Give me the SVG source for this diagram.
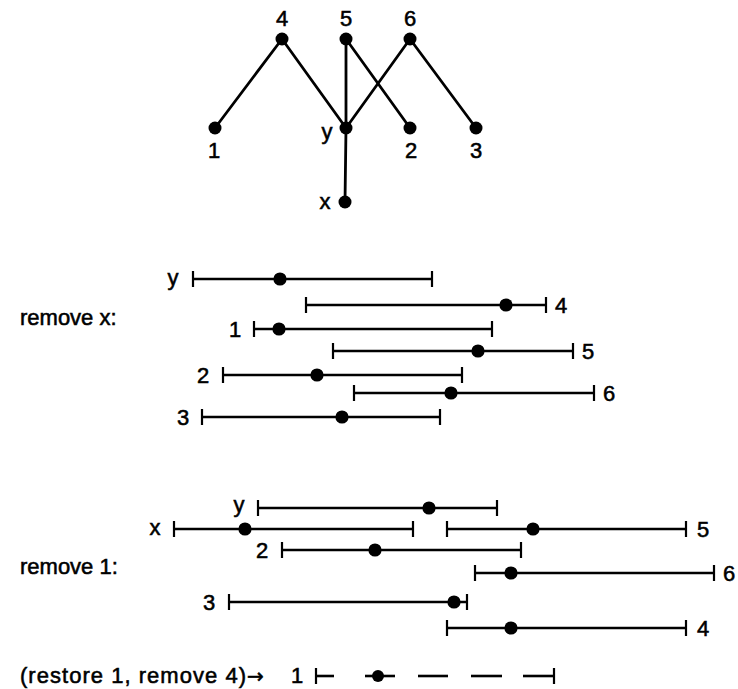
<svg xmlns="http://www.w3.org/2000/svg" width="738" height="689" viewBox="0 0 738 689">
  <style>
    text { font-family: "Liberation Sans", Arial, Helvetica, sans-serif; fill: #000; stroke: #000; stroke-width: 0.55; }
    .lbl { font-size: 22px; }
    .mid { text-anchor: middle; }
    .cap { font-size: 22px; }
    .edge { stroke: #000; stroke-width: 2.8; fill: none; stroke-linecap: round; }
    .node { fill: #000; }
    .bar { stroke: #000; stroke-width: 2.6; fill: none; }
    .tick { stroke: #000; stroke-width: 2.2; }
    .pt { fill: #000; }
  </style>
  <rect width="738" height="689" fill="#fff"/>

  <!-- poset: connectors -->
  <g id="connectors">
    <line class="edge" x1="282" y1="39" x2="215" y2="128"/>
    <line class="edge" x1="282" y1="39" x2="346" y2="128"/>
    <line class="edge" x1="346" y1="39" x2="346" y2="128"/>
    <line class="edge" x1="346" y1="39" x2="410" y2="128"/>
    <line class="edge" x1="410" y1="39" x2="346" y2="128"/>
    <line class="edge" x1="410" y1="39" x2="476" y2="128"/>
    <line class="edge" x1="346" y1="128" x2="345" y2="202"/>
  </g>

  <!-- poset: nodes -->
  <g id="node-4"><circle class="node" cx="282" cy="39" r="6.5"/><text class="lbl mid" x="282" y="26">4</text></g>
  <g id="node-5"><circle class="node" cx="346" cy="39" r="6.5"/><text class="lbl mid" x="346" y="26">5</text></g>
  <g id="node-6"><circle class="node" cx="410" cy="39" r="6.5"/><text class="lbl mid" x="410" y="26">6</text></g>
  <g id="node-1"><circle class="node" cx="215" cy="128" r="6.5"/><text class="lbl mid" x="214" y="158">1</text></g>
  <g id="node-y"><circle class="node" cx="346" cy="128" r="6.5"/><text class="lbl mid" x="327" y="139">y</text></g>
  <g id="node-2"><circle class="node" cx="410" cy="128" r="6.5"/><text class="lbl mid" x="411" y="158">2</text></g>
  <g id="node-3"><circle class="node" cx="476" cy="128" r="6.5"/><text class="lbl mid" x="476" y="158">3</text></g>
  <g id="node-x"><circle class="node" cx="345" cy="202" r="6.5"/><text class="lbl mid" x="325" y="209">x</text></g>

  <!-- interval representation after removing x -->
  <text class="cap" x="20" y="325">remove x:</text>
  <g id="rx-y">
    <line class="bar" x1="193" y1="279" x2="432" y2="279"/>
    <line class="tick" x1="193" y1="271" x2="193" y2="287"/><line class="tick" x1="432" y1="271" x2="432" y2="287"/>
    <circle class="pt" cx="280" cy="279" r="6.6"/>
    <text class="lbl mid" x="173" y="285">y</text>
  </g>
  <g id="rx-4">
    <line class="bar" x1="306" y1="305" x2="546" y2="305"/>
    <line class="tick" x1="306" y1="297" x2="306" y2="313"/><line class="tick" x1="546" y1="297" x2="546" y2="313"/>
    <circle class="pt" cx="506" cy="305" r="6.6"/>
    <text class="lbl mid" x="561" y="313">4</text>
  </g>
  <g id="rx-1">
    <line class="bar" x1="254" y1="329" x2="492" y2="329"/>
    <line class="tick" x1="254" y1="321" x2="254" y2="337"/><line class="tick" x1="492" y1="321" x2="492" y2="337"/>
    <circle class="pt" cx="279" cy="329" r="6.6"/>
    <text class="lbl mid" x="235" y="337">1</text>
  </g>
  <g id="rx-5">
    <line class="bar" x1="333" y1="351" x2="573" y2="351"/>
    <line class="tick" x1="333" y1="343" x2="333" y2="359"/><line class="tick" x1="573" y1="343" x2="573" y2="359"/>
    <circle class="pt" cx="478" cy="351" r="6.6"/>
    <text class="lbl mid" x="588" y="359">5</text>
  </g>
  <g id="rx-2">
    <line class="bar" x1="223" y1="375" x2="462" y2="375"/>
    <line class="tick" x1="223" y1="367" x2="223" y2="383"/><line class="tick" x1="462" y1="367" x2="462" y2="383"/>
    <circle class="pt" cx="317" cy="375" r="6.6"/>
    <text class="lbl mid" x="203" y="383">2</text>
  </g>
  <g id="rx-6">
    <line class="bar" x1="354" y1="393" x2="594" y2="393"/>
    <line class="tick" x1="354" y1="385" x2="354" y2="401"/><line class="tick" x1="594" y1="385" x2="594" y2="401"/>
    <circle class="pt" cx="451" cy="393" r="6.6"/>
    <text class="lbl mid" x="609" y="401">6</text>
  </g>
  <g id="rx-3">
    <line class="bar" x1="202" y1="417" x2="440" y2="417"/>
    <line class="tick" x1="202" y1="409" x2="202" y2="425"/><line class="tick" x1="440" y1="409" x2="440" y2="425"/>
    <circle class="pt" cx="342" cy="417" r="6.6"/>
    <text class="lbl mid" x="183" y="425">3</text>
  </g>

  <!-- interval representation after removing 1 -->
  <text class="cap" x="20" y="574">remove 1:</text>
  <g id="r1-y">
    <line class="bar" x1="258" y1="508" x2="497" y2="508"/>
    <line class="tick" x1="258" y1="500" x2="258" y2="516"/><line class="tick" x1="497" y1="500" x2="497" y2="516"/>
    <circle class="pt" cx="429" cy="508" r="6.6"/>
    <text class="lbl mid" x="239" y="512">y</text>
  </g>
  <g id="r1-x">
    <line class="bar" x1="174" y1="529" x2="413" y2="529"/>
    <line class="tick" x1="174" y1="521" x2="174" y2="537"/><line class="tick" x1="413" y1="521" x2="413" y2="537"/>
    <circle class="pt" cx="245" cy="529" r="6.6"/>
    <text class="lbl mid" x="155" y="535">x</text>
  </g>
  <g id="r1-5">
    <line class="bar" x1="447" y1="529" x2="686" y2="529"/>
    <line class="tick" x1="447" y1="521" x2="447" y2="537"/><line class="tick" x1="686" y1="521" x2="686" y2="537"/>
    <circle class="pt" cx="533" cy="529" r="6.6"/>
    <text class="lbl mid" x="703" y="537">5</text>
  </g>
  <g id="r1-2">
    <line class="bar" x1="282" y1="550" x2="521" y2="550"/>
    <line class="tick" x1="282" y1="542" x2="282" y2="558"/><line class="tick" x1="521" y1="542" x2="521" y2="558"/>
    <circle class="pt" cx="375" cy="550" r="6.6"/>
    <text class="lbl mid" x="262" y="558">2</text>
  </g>
  <g id="r1-6">
    <line class="bar" x1="475" y1="573" x2="714" y2="573"/>
    <line class="tick" x1="475" y1="565" x2="475" y2="581"/><line class="tick" x1="714" y1="565" x2="714" y2="581"/>
    <circle class="pt" cx="511" cy="573" r="6.6"/>
    <text class="lbl mid" x="729" y="581">6</text>
  </g>
  <g id="r1-3">
    <line class="bar" x1="229" y1="602" x2="467" y2="602"/>
    <line class="tick" x1="229" y1="594" x2="229" y2="610"/><line class="tick" x1="467" y1="594" x2="467" y2="610"/>
    <circle class="pt" cx="454" cy="602" r="6.6"/>
    <text class="lbl mid" x="209" y="610">3</text>
  </g>
  <g id="r1-4">
    <line class="bar" x1="447" y1="628" x2="686" y2="628"/>
    <line class="tick" x1="447" y1="620" x2="447" y2="636"/><line class="tick" x1="686" y1="620" x2="686" y2="636"/>
    <circle class="pt" cx="511" cy="628" r="6.6"/>
    <text class="lbl mid" x="703" y="636">4</text>
  </g>

  <!-- restored interval, drawn dashed -->
  <text class="cap" x="20" y="683"><tspan textLength="226" lengthAdjust="spacing">(restore 1, remove 4)</tspan><tspan x="247" font-family="'DejaVu Sans', sans-serif" font-size="20">→</tspan></text>
  <g id="r4-1">
    <line class="bar" x1="316" y1="676" x2="334" y2="676"/>
    <line class="bar" x1="365" y1="676" x2="395" y2="676"/>
    <line class="bar" x1="418" y1="676" x2="448" y2="676"/>
    <line class="bar" x1="471" y1="676" x2="502" y2="676"/>
    <line class="bar" x1="523" y1="676" x2="554" y2="676"/>
    <line class="tick" x1="316" y1="668" x2="316" y2="684"/><line class="tick" x1="554" y1="668" x2="554" y2="684"/>
    <circle class="pt" cx="378" cy="676" r="6"/>
    <text class="lbl mid" x="297" y="683">1</text>
  </g>
</svg>
